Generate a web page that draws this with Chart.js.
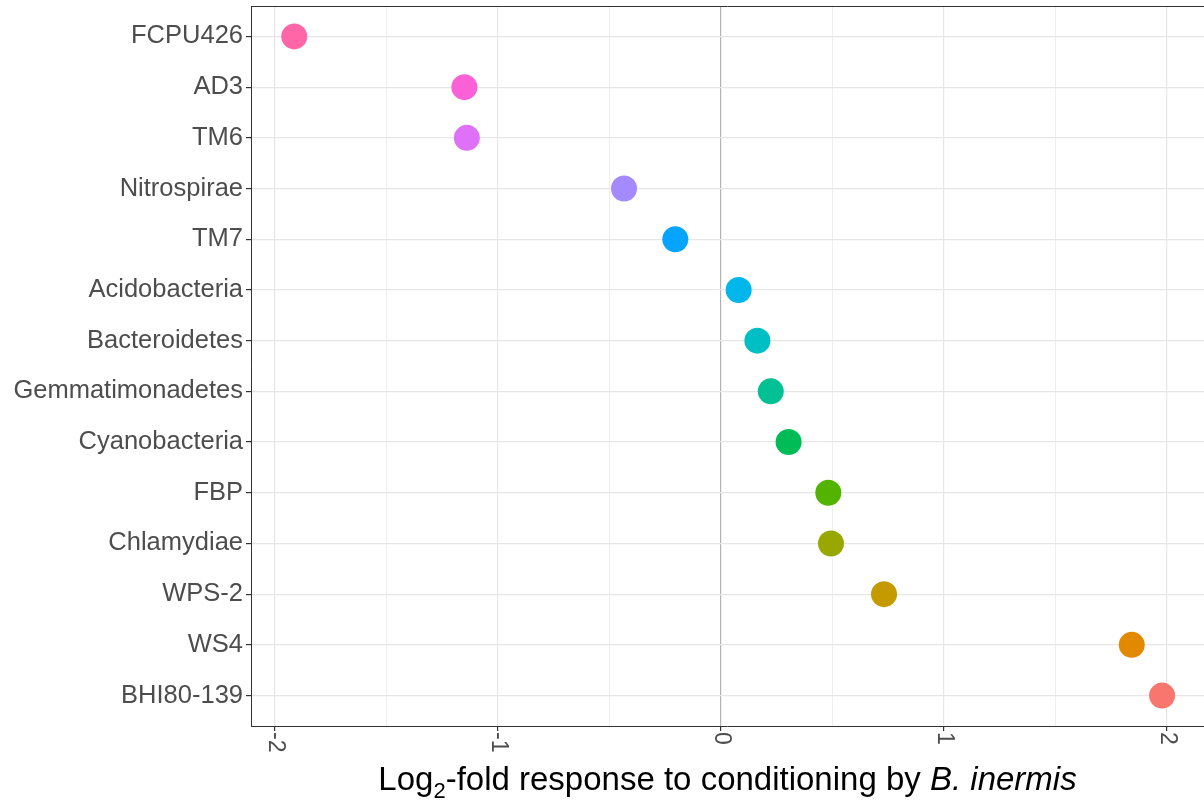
<!DOCTYPE html>
<html>
<head>
<meta charset="utf-8">
<script src="https://cdn.jsdelivr.net/npm/chart.js@4.4.1/dist/chart.umd.min.js"></script>
<style>
  html, body { margin: 0; padding: 0; background: #fff; overflow: hidden; }
  #wrap { width: 1204px; height: 801px; }
</style>
</head>
<body>
<div id="wrap"><canvas id="chart"></canvas></div>
<script>
// phyla, top to bottom
var phyla = ['FCPU426', 'AD3', 'TM6', 'Nitrospirae', 'TM7', 'Acidobacteria', 'Bacteroidetes',
             'Gemmatimonadetes', 'Cyanobacteria', 'FBP', 'Chlamydiae', 'WPS-2', 'WS4', 'BHI80-139'];
// log2 fold change
var logFold = [-1.914, -1.151, -1.140, -0.435, -0.205, 0.079, 0.163,
               0.223, 0.303, 0.481, 0.493, 0.731, 1.842, 1.978];
// ggplot default hue palette
var dotColors = ['#FF66A8', '#FB61D7', '#DF70F8', '#A58AFF', '#06A4FF', '#00B6EB', '#00BFC4',
                 '#00C094', '#00BC56', '#53B400', '#99A800', '#C49A00', '#E38900', '#F8766D'];
var xMajor = [-2, -1, 0, 1, 2];
var xTicks = [-2, -1.5, -1, -0.5, 0, 0.5, 1, 1.5, 2];

var FONT = "'Liberation Sans', Arial, sans-serif";

var points = phyla.map(function(p, i) { return { x: logFold[i], y: i }; });

// panel frame top line, rotated x labels and axis title
var decor = {
  id: 'decor',
  afterDraw: function(chart) {
    var ctx = chart.ctx, a = chart.chartArea, xs = chart.scales.x;
    ctx.save();
    ctx.strokeStyle = '#333333';
    ctx.lineWidth = 1;
    ctx.beginPath();
    ctx.moveTo(a.left, a.top + 0.5);
    ctx.lineTo(a.right, a.top + 0.5);
    ctx.stroke();

    ctx.fillStyle = '#4d4d4d';
    ctx.font = '23px ' + FONT;
    ctx.textAlign = 'left';
    ctx.textBaseline = 'middle';
    xMajor.forEach(function(v) {
      ctx.save();
      ctx.translate(xs.getPixelForValue(v), a.bottom + 6);
      ctx.rotate(Math.PI / 2);
      ctx.fillText(String(v), 0, 0);
      ctx.restore();
    });

    // Log2-fold response to conditioning by B. inermis
    var parts = [
      { t: 'Log', f: '33px ' + FONT, dy: 0 },
      { t: '2', f: '22px ' + FONT, dy: 8 },
      { t: '-fold response to conditioning by ', f: '33px ' + FONT, dy: 0 },
      { t: 'B. inermis', f: 'italic 33px ' + FONT, dy: 0 }
    ];
    var total = 0;
    parts.forEach(function(p) { ctx.font = p.f; p.w = ctx.measureText(p.t).width; total += p.w; });
    var x = (a.left + a.right) / 2 - total / 2, base = 790;
    ctx.fillStyle = '#000000';
    ctx.textBaseline = 'alphabetic';
    parts.forEach(function(p) {
      ctx.font = p.f;
      ctx.fillText(p.t, x, base + p.dy);
      x += p.w;
    });
    ctx.restore();
  }
};

var ctx = document.getElementById('chart').getContext('2d');
var myChart = new Chart(ctx, {
  type: 'scatter',
  data: {
    datasets: [{
      data: points,
      backgroundColor: dotColors,
      borderWidth: 0,
      pointRadius: 13,
      pointHoverRadius: 13
    }]
  },
  options: {
    responsive: true,
    maintainAspectRatio: false,
    animation: false,
    layout: { autoPadding: false, padding: { top: 6, right: 0, left: 0, bottom: 0 } },
    plugins: {
      legend: { display: false },
      tooltip: { enabled: false }
    },
    scales: {
      x: {
        type: 'linear',
        min: -2.108,
        max: 2.166,
        afterBuildTicks: function(s) { s.ticks = xTicks.map(function(v) { return { value: v }; }); },
        afterFit: function(s) { s.height = 75; s.paddingLeft = 0; s.paddingRight = 0; },
        ticks: { display: false },
        grid: {
          color: function(c) {
            if (c.tick && c.tick.value === 0) return '#b3b3b3';
            return '#e6e6e6';
          },
          lineWidth: function(c) {
            if (!c.tick) return 1;
            return Number.isInteger(c.tick.value) ? 1.2 : 0.7;
          },
          tickColor: function(c) {
            return (c.tick && Number.isInteger(c.tick.value)) ? '#333333' : 'rgba(0,0,0,0)';
          },
          drawTicks: true,
          tickLength: 5
        },
        border: { display: true, color: '#333333', width: 1 }
      },
      y: {
        type: 'linear',
        reverse: true,
        min: -0.6,
        max: 13.6,
        afterBuildTicks: function(s) { s.ticks = phyla.map(function(p, i) { return { value: i }; }); },
        afterFit: function(s) { s.width = 251; s.paddingTop = 0; s.paddingBottom = 0; },
        ticks: {
          color: '#4d4d4d',
          font: { family: FONT, size: 25.5 },
          padding: 3,
          callback: function(v) { return phyla[v]; }
        },
        grid: {
          color: '#e6e6e6',
          lineWidth: 1.2,
          tickColor: '#333333',
          drawTicks: true,
          tickLength: 5
        },
        border: { display: true, color: '#333333', width: 1 }
      }
    }
  },
  plugins: [decor]
});
</script>
</body>
</html>
